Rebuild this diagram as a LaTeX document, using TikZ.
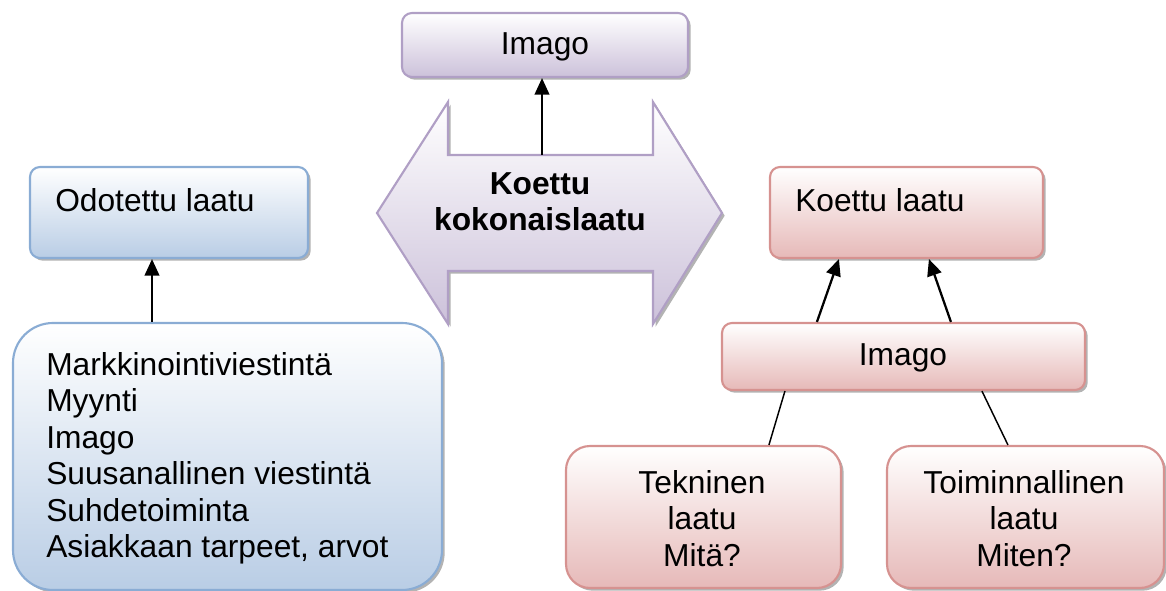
\documentclass[tikz,border=0pt]{standalone}
\usepackage{fontspec}
\setmainfont{Liberation Sans}
\usetikzlibrary{shadows,arrows.meta,calc}

\definecolor{blueline}{HTML}{8AACD4}
\definecolor{bluefill}{HTML}{B9CDE5}
\definecolor{redline}{HTML}{D69290}
\definecolor{redfill}{HTML}{E6B9B8}
\definecolor{purpleline}{HTML}{B09FC5}
\definecolor{purplefill}{HTML}{CCC1DA}

\tikzset{
  box/.style={draw, line width=1.6pt, inner sep=0pt,
    drop shadow={shadow xshift=2pt, shadow yshift=-2pt, fill=black!50, opacity=0.6}},
  bluebox/.style={box, draw=blueline, top color=white, bottom color=bluefill},
  redbox/.style={box, draw=redline, top color=white, bottom color=redfill},
  purplebox/.style={box, draw=purpleline, top color=white, bottom color=purplefill},
  txt/.style={inner sep=0pt, font=\fontsize{23.8}{27.4}\selectfont},
  link/.style={line width=1.7pt, -{Triangle[width=11pt,length=12.5pt]}},
  tie/.style={line width=1.1pt}
}

\begin{document}
\begin{tikzpicture}[x=0.75pt,y=-0.75pt]
\useasboundingbox (0,0) rectangle (1166,591);

% central double arrow
\path[purplebox, line join=miter]
  (377,213) -- (448,102) -- (448,155) -- (653,155) -- (653,102) -- (722,213)
  -- (653,324) -- (653,271) -- (448,271) -- (448,324) -- cycle;
\coordinate (shafttop) at (542,155);
\node[txt, anchor=base, font=\fontsize{23.8}{26.3}\selectfont\bfseries] (kokotxt) at (540,195)
  {\begin{tabular}[t]{@{}c@{}}Koettu\hspace{0.45em}\\kokonaislaatu\end{tabular}};

% top box
\node[purplebox, rounded corners=7.5pt, minimum width=214.5pt, minimum height=48pt] (imgtop) at (545,45) {};
\node[txt, anchor=base] (imgtoptxt) at (545,55) {Imago};

% left column
\node[bluebox, rounded corners=7.5pt, minimum width=208.5pt, minimum height=68.25pt] (odo) at (169,212.5) {};
\node[txt, anchor=base west] (odotxt) at (55,212) {Odotettu laatu};
\node[bluebox, rounded corners=30pt, minimum width=321.75pt, minimum height=200.25pt] (tekijat) at (227.5,456.5) {};
\node[txt, anchor=base west] (tekijattxt) at (46,375)
  {\begin{tabular}[t]{@{}l@{}}Markkinointiviestintä\\Myynti\\Imago\\Suusanallinen viestintä\\Suhdetoiminta\\Asiakkaan tarpeet, arvot\end{tabular}};

% right column
\node[redbox, rounded corners=7.5pt, minimum width=204.75pt, minimum height=68.25pt] (koettu) at (906.5,212.5) {};
\node[txt, anchor=base west] (koettutxt) at (795,212) {Koettu laatu};
\node[redbox, rounded corners=7.5pt, minimum width=272.25pt, minimum height=50.25pt] (imgr) at (903.5,356.5) {};
\node[txt, anchor=base] (imgrtxt) at (903,365) {Imago};
\node[redbox, rounded corners=18pt, minimum width=206.25pt, minimum height=106.5pt] (tekn) at (703.5,517) {};
\node[txt, anchor=base] (tekntxt) at (702,493)
  {\begin{tabular}[t]{@{}c@{}}Tekninen\\laatu\\Mitä?\end{tabular}};
\node[redbox, rounded corners=18pt, minimum width=207.75pt, minimum height=106.5pt] (toim) at (1025.5,517) {};
\node[txt, anchor=base] (toimtxt) at (1024,493)
  {\begin{tabular}[t]{@{}c@{}}Toiminnallinen\\laatu\\Miten?\end{tabular}};

% connectors
\draw[link] (shafttop) -- (shafttop |- imgtop.south);
\coordinate (odoarrow) at (152,0);
\draw[link] (odoarrow |- tekijat.north) -- (odoarrow |- odo.south);
\draw[link] ($(imgr.north west)+(96,0)$) -- ($(koettu.south west)+(70,0)$);
\draw[link] ($(imgr.north west)+(230,0)$) -- ($(koettu.south west)+(160,0)$);
\draw[tie] ($(imgr.south west)+(64,0)$) -- ($(tekn.north west)+(204,0)$);
\draw[tie] ($(imgr.south west)+(261,0)$) -- ($(toim.north west)+(122,0)$);
\end{tikzpicture}
\end{document}
